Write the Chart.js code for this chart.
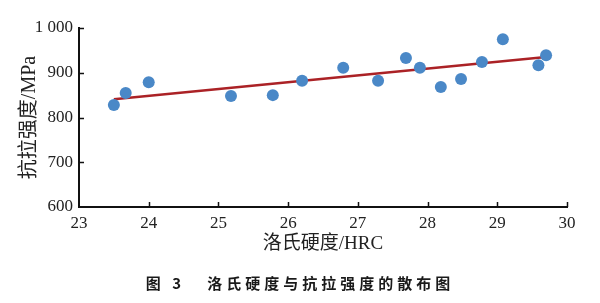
<!DOCTYPE html>
<html>
<head>
<meta charset="utf-8">
<script src="https://cdn.jsdelivr.net/npm/chart.js@4/dist/chart.umd.min.js"></script>
<style>
    html, body { margin: 0; padding: 0; background: #fff; }
    #wrap { position: relative; width: 600px; height: 303px; }
    #caption {
        position: absolute; left: 0; width: 600px; top: 272px;
        text-align: center; font: bold 15px "Noto Sans CJK SC", sans-serif;
        letter-spacing: 4px; color: #1a1a1a;
    }
</style>
</head>
<body>
<div id="wrap">
    <canvas id="chart" width="600" height="303"></canvas>
    <div id="caption">图 3&nbsp;&nbsp;&nbsp;洛氏硬度与抗拉强度的散布图</div>
</div>
<script>
"use strict";

// measured points: Rockwell hardness (HRC) vs tensile strength (MPa)
const hardness = [23.5, 23.67, 24.0, 25.18, 25.78, 26.2, 26.79, 27.29, 27.69, 27.89, 28.19, 28.48, 28.78, 29.08, 29.59, 29.7];
const strength = [828, 855, 879, 848, 850, 882, 911, 882, 933, 911, 868, 886, 924, 975, 917, 939];

// fitted line end points
const fitX = [23.5, 29.7];
const fitY = [841, 935];

const xTicks = [23, 24, 25, 26, 27, 28, 29, 30];
const yTicks = [600, 700, 800, 900, 1000];

const serif = '"Liberation Serif", "Noto Sans CJK SC", serif';

/* --- inward tick marks --- */
const innerTicks = {
    id: "innerTicks",
    afterDraw(chart) {
        const { ctx, chartArea, scales } = chart;
        ctx.save();
        ctx.strokeStyle = "#111";
        ctx.lineWidth = 1.5;
        ctx.beginPath();
        xTicks.slice(1).forEach(v => {
            const px = Math.round(scales.x.getPixelForValue(v)) + 0.5;
            ctx.moveTo(px, chartArea.bottom);
            ctx.lineTo(px, chartArea.bottom - 5);
        });
        yTicks.slice(1).forEach(v => {
            const py = Math.round(scales.y.getPixelForValue(v)) + 0.5;
            ctx.moveTo(chartArea.left, py);
            ctx.lineTo(chartArea.left + 5, py);
        });
        ctx.stroke();
        ctx.restore();
    }
};

new Chart(document.getElementById("chart"), {
    type: "scatter",
    data: {
        datasets: [
            {
                label: "实测值",
                data: hardness.map((h, i) => ({ x: h, y: strength[i] })),
                backgroundColor: "#4a88c7",
                borderWidth: 0,
                pointRadius: 6
            },
            {
                label: "拟合线",
                data: fitX.map((h, i) => ({ x: h, y: fitY[i] })),
                showLine: true,
                borderColor: "#ab2226",
                borderWidth: 2.5,
                pointRadius: 0
            }
        ]
    },
    options: {
        responsive: false,
        animation: false,
        layout: { padding: { left: 0, right: 33, top: 28, bottom: 41 } },
        plugins: { legend: { display: false }, tooltip: { enabled: false } },
        scales: {
            x: {
                type: "linear",
                min: 23, max: 30,
                afterFit: s => { s.height = 55; },
                afterBuildTicks: s => { s.ticks = xTicks.map(v => ({ value: v })); },
                grid: { display: false, drawTicks: false },
                border: { display: true, color: "#111", width: 2 },
                ticks: { color: "#222", padding: 6, font: { family: serif, size: 17 } },
                title: {
                    display: true, text: "洛氏硬度/HRC", color: "#222",
                    font: { family: serif, size: 19 }, padding: { top: 0, bottom: 7 }
                }
            },
            y: {
                min: 600, max: 1000,
                afterFit: s => { s.width = 79; },
                afterBuildTicks: s => { s.ticks = yTicks.map(v => ({ value: v })); },
                grid: { display: false, drawTicks: false },
                border: { display: true, color: "#111", width: 2 },
                ticks: {
                    color: "#222", padding: 6, font: { family: serif, size: 17 },
                    callback: v => v >= 1000 ? "1 000" : String(v)
                },
                title: {
                    display: true, text: "抗拉强度/MPa", color: "#222",
                    font: { family: serif, size: 20 }, padding: { top: 18, bottom: 0 }
                }
            }
        }
    },
    plugins: [innerTicks]
});
</script>
</body>
</html>
